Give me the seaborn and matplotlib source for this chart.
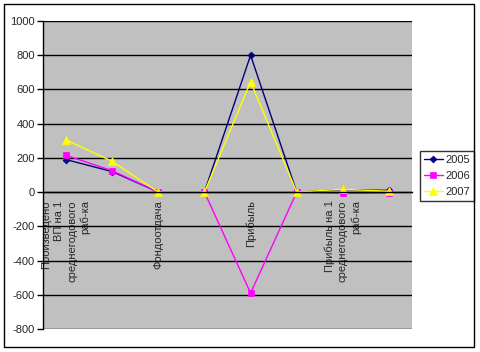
import matplotlib
matplotlib.use("Agg")
import matplotlib.pyplot as plt
import seaborn as sns
import pandas as pd
from matplotlib.patches import Rectangle
from matplotlib.ticker import MultipleLocator, FixedLocator

categories = [
    "Произведено\nВП на 1\nсреднегодового\nраб-ка",
    "",
    "Фондоотдача",
    "",
    "Прибыль",
    "",
    "Прибыль на 1\nсреднегодового\nраб-ка",
    "",
]
years = ["2005", "2006", "2007"]
v2005 = [190, 120, 0, 0, 800, 0, 15, 10]
v2006 = [215, 125, 0, 0, -590, 0, -8, -5]
v2007 = [305, 180, 0, 0, 645, 0, 17, 5]

colors = ["#000080", "#FF00FF", "#FFFF00"]
markers = ["D", "s", "^"]

rows = []
for y, vals in zip(years, [v2005, v2006, v2007]):
    for i, v in enumerate(vals):
        rows.append({"pos": i, "value": v, "year": y})
df = pd.DataFrame(rows)

sns.set_style("white")
plt.rcParams["font.family"] = ["Liberation Sans", "DejaVu Sans"]
plt.rcParams["axes.unicode_minus"] = False

fig = plt.figure(figsize=(4.8, 3.52), dpi=100)
ax = fig.add_axes([0.0896, 0.0653, 0.7688, 0.8750])
ax.set_facecolor("#C0C0C0")

sns.lineplot(data=df, x="pos", y="value", hue="year", style="year",
             markers=markers, dashes=False, palette=colors, ax=ax,
             linewidth=1, markersize=5, markeredgewidth=0.5)

sizes = {"D": 3.5, "s": 5, "^": 5.5}
for ln in ax.lines:
    ln.set_markeredgecolor(ln.get_color())
    m = ln.get_marker()
    if m in sizes:
        ln.set_markersize(sizes[m])

ax.set_xlim(-0.5, 7.5)
ax.set_ylim(-800, 1000)
ax.yaxis.set_major_locator(MultipleLocator(200))
ax.grid(axis="y", color="black", linewidth=1)
ax.set_axisbelow(True)
ax.set_xlabel("")
ax.set_ylabel("")

for s in ["top", "right"]:
    ax.spines[s].set_visible(False)
ax.spines["bottom"].set_position(("data", 0))
ax.spines["bottom"].set_color("black")
ax.spines["bottom"].set_linewidth(1)
ax.spines["left"].set_color("black")
ax.spines["left"].set_linewidth(1)

ax.set_xticks(range(len(categories)))
ax.set_xticklabels(categories, rotation=90, va="top", ha="center",
                   multialignment="right", fontsize=8, linespacing=1.35)
ax.xaxis.set_minor_locator(FixedLocator([i + 0.5 for i in range(-1, 8)]))
ax.tick_params(axis="x", which="major", length=0, pad=6)
ax.tick_params(axis="x", which="minor", length=4, direction="out", color="black", width=1)
ax.tick_params(axis="y", length=4, direction="out", color="black", width=1,
               labelsize=8, left=True, pad=2)

leg = ax.legend(loc="center left", bbox_to_anchor=(0.875, 0.50),
                bbox_transform=fig.transFigure, fontsize=8, frameon=True,
                fancybox=False, edgecolor="black", handlelength=1.7,
                handletextpad=0.2, borderpad=0.35, labelspacing=0.55,
                borderaxespad=0)
leg.get_frame().set_linewidth(1)
for h in leg.legend_handles:
    h.set_markeredgecolor(h.get_color())
    m = h.get_marker()
    if m in sizes:
        h.set_markersize(sizes[m])

fig.patches.append(Rectangle((4 / 480, 1 - 347 / 352), 470 / 480, 343 / 352,
                             transform=fig.transFigure, fill=False,
                             edgecolor="black", linewidth=1))

fig.savefig("out.png", dpi=100)
